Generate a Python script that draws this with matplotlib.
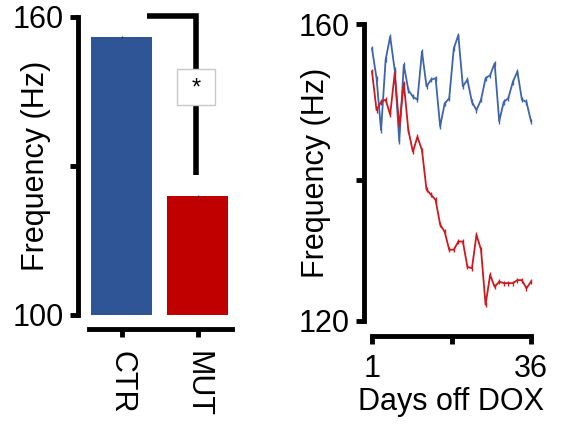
import matplotlib
matplotlib.use("Agg")
import matplotlib.pyplot as plt
from matplotlib.patches import Rectangle
import numpy as np

plt.rcParams['font.family'] = ['Liberation Sans', 'DejaVu Sans']

# ---- data ----
groups = ["CTR", "MUT"]
group_means = [156.0, 124.0]
group_sem = [0.2, 0.2]

days = list(range(1, 37))
ctr_daily = [156.7, 152.7, 145.7, 155.2, 158.3, 153.8, 144.2, 154.5, 151.1, 150.2,
             149.8, 156.3, 151.6, 152.5, 152.7, 146.2, 149.3, 150.0, 156.7, 158.5,
             151.6, 152.5, 149.5, 148.4, 149.8, 152.7, 153.1, 154.7, 146.9, 149.5,
             150.0, 152.2, 153.6, 149.8, 149.5, 146.9]
mut_daily = [153.6, 148.4, 149.5, 149.8, 147.8, 153.4, 146.2, 152.0, 145.7, 142.8,
             144.8, 143.0, 137.7, 137.0, 136.3, 133.0, 132.0, 129.6, 129.6, 130.7,
             130.7, 127.3, 127.1, 131.6, 129.6, 122.2, 126.2, 124.6, 125.3, 125.1,
             125.1, 125.1, 125.5, 125.5, 124.4, 125.3]
daily_err = 0.35

left_yticks = [100, 130, 160]
left_yticklabels = ["100", "", "160"]
right_yticks = [120, 139, 160]
right_yticklabels = ["120", "", "160"]
right_xticks = [1, 18.5, 36]
right_xticklabels = ["1", "", "36"]

bar_colors = ["#2F5597", "#C00000"]
line_colors = ["#3E64AB", "#CC1A1F"]

W, H = 568, 424
fig = plt.figure(figsize=(W / 100, H / 100), dpi=100)

FS = 22
SPW = 3.5

def px_axes(x0, x1, ytop, ybot):
    return fig.add_axes([x0 / W, 1 - ybot / H, (x1 - x0) / W, (ybot - ytop) / H])

# ---- left bar panel ----
ax1 = px_axes(89, 232, 17, 315)
xpos = np.arange(len(groups))
ax1.bar(xpos, group_means, width=0.8, color=bar_colors, zorder=2)
ax1.errorbar(xpos, group_means, yerr=group_sem, fmt="none", ecolor="#333333",
             elinewidth=1, capsize=0, zorder=3)
ax1.set_ylim(100, 160)
ax1.set_xlim(-0.428, 1.454)
ax1.set_yticks(left_yticks)
ax1.set_yticklabels(left_yticklabels)
ax1.set_xticks(xpos)
ax1.set_xticklabels(groups)
ax1.spines["top"].set_visible(False)
ax1.spines["right"].set_visible(False)
ax1.spines["left"].set_position(("outward", 8))
ax1.spines["bottom"].set_position(("outward", 10))
for s in ("left", "bottom"):
    ax1.spines[s].set_linewidth(SPW)
ax1.tick_params(axis="both", width=SPW, length=6, labelsize=FS, pad=4)
ax1.tick_params(axis="x", labelrotation=270, pad=10)
for lab in ax1.get_xticklabels():
    lab.set_va("top")
    lab.set_ha("center")
ax1.set_ylabel("Frequency (Hz)", fontsize=FS, va="center")
ax1.yaxis.set_label_coords((36 - 89) / 143, 0.5)

# significance bracket
bx0, bx1 = 0.335, 0.975
ytop_b, ybot_b = 160.2, 128.2
ax1.plot([bx0, bx1, bx1], [ytop_b, ytop_b, ybot_b], color="black", lw=4,
         solid_capstyle="butt", solid_joinstyle="miter", clip_on=False, zorder=4)
ax1.add_patch(Rectangle((0.73, 142.3), 0.50, 7.2, facecolor="white",
                        edgecolor="#C8C8C8", lw=1, clip_on=False, zorder=5))
ax1.text(0.98, 145.6, "*", ha="center", va="center", fontsize=17, zorder=6)

# ---- right line panel ----
ax2 = px_axes(372, 531, 24, 321)
for vals, c in ((ctr_daily, line_colors[0]), (mut_daily, line_colors[1])):
    ax2.errorbar(days, vals, yerr=daily_err, color=c, lw=1.3, elinewidth=1.0,
                 capsize=0, clip_on=False)
ax2.set_xlim(1, 36)
ax2.set_ylim(120, 160)
ax2.set_yticks(right_yticks)
ax2.set_yticklabels(right_yticklabels)
ax2.set_xticks(right_xticks)
ax2.set_xticklabels(right_xticklabels)
ax2.set_xlabel("Days off DOX", fontsize=FS, labelpad=2)
ax2.spines["top"].set_visible(False)
ax2.spines["right"].set_visible(False)
ax2.spines["left"].set_position(("outward", 6))
ax2.spines["bottom"].set_position(("outward", 11))
for s in ("left", "bottom"):
    ax2.spines[s].set_linewidth(SPW)
ax2.tick_params(axis="both", width=SPW, length=6, labelsize=FS, pad=4)
ax2.tick_params(axis="x", pad=7)
ax2.set_ylabel("Frequency (Hz)", fontsize=FS, va="center")
ax2.yaxis.set_label_coords((316 - 372) / 159, 0.5)

fig.savefig("out.png", dpi=100)
